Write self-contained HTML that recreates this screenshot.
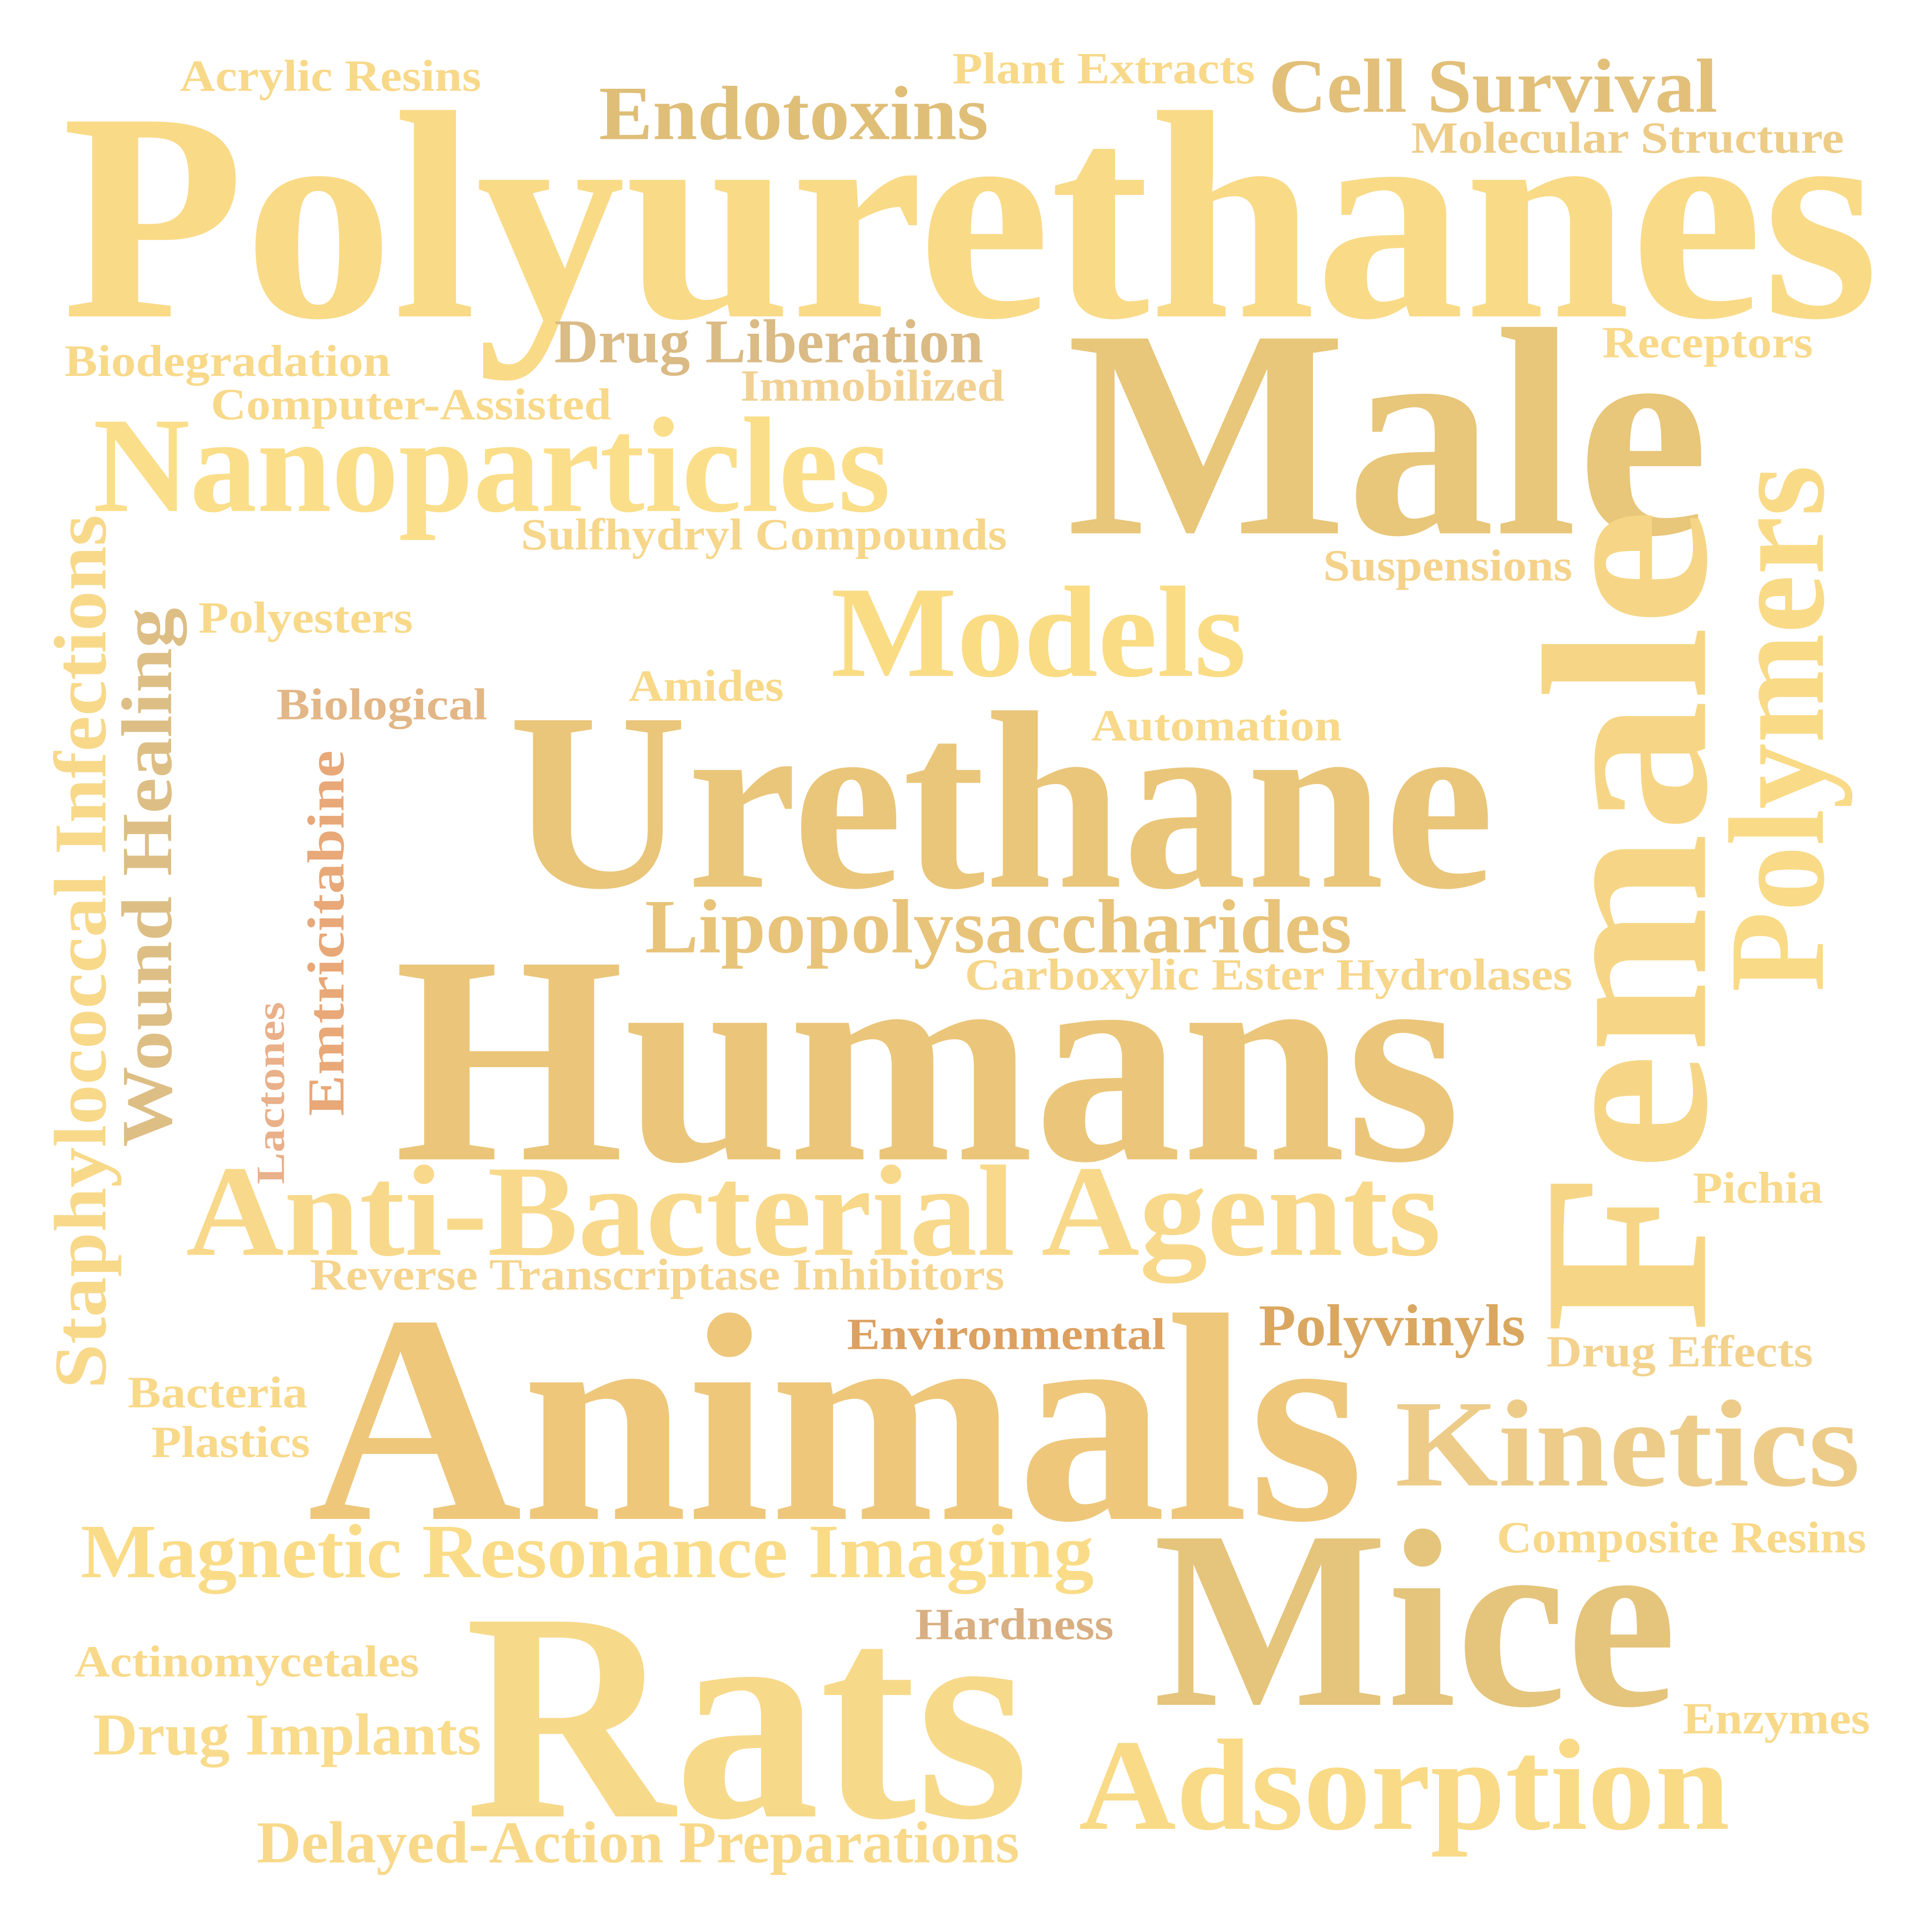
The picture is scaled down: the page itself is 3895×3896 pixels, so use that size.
<!DOCTYPE html>
<html><head><meta charset="utf-8"><style>
html,body{margin:0;padding:0;background:#fff;}
svg{display:block;}
text{font-family:"Liberation Serif",serif;font-weight:bold;}
</style></head><body>
<svg id="cloud" width="3895" height="3896" viewBox="0 0 1558 1558" xmlns="http://www.w3.org/2000/svg"></svg>
<script>
// words, font sizes, colours, and layout (x start, baseline, width, vertical flag)
const words = ["Polyurethanes","Male","Urethane","Humans","Animals","Rats","Mice","Female","Polymers",
"Staphylococcal Infections","Wound Healing","Emtricitabine","Lactones","Nanoparticles","Models",
"Anti-Bacterial Agents","Kinetics","Adsorption","Lipopolysaccharides","Magnetic Resonance Imaging",
"Endotoxins","Cell Survival","Drug Liberation","Delayed-Action Preparations","Drug Implants","Polyvinyls",
"Acrylic Resins","Plant Extracts","Molecular Structure","Biodegradation","Computer-Assisted","Immobilized",
"Receptors","Sulfhydryl Compounds","Suspensions","Polyesters","Biological","Amides","Automation",
"Carboxylic Ester Hydrolases","Reverse Transcriptase Inhibitors","Pichia","Environmental","Drug Effects",
"Bacteria","Plastics","Composite Resins","Hardness","Actinomycetales","Enzymes"];
const sizes = [240,240,205,240,240,240,205,190,110,60,58,42,32,110,105,105,100,105,62,62,62,62,50,48,48,48,
36,36,36,36,36,36,36,36,36,36,36,36,36,36,36,36,36,36,36,36,36,36,36,36];
const colors = ["#F9DA87","#E8C67A","#EAC67A","#EBC67A","#EEC77B","#F7D98A","#E5C47C","#F6D686","#F9DA87",
"#F8D98A","#DDBE85","#E8A878","#E9B08A","#FBDE8A","#FADC84","#F8D88A","#EDCC8A","#F9DA87","#E8C37A","#FADC88",
"#DFBE78","#E2C07A","#DABA85","#F8D98A","#F9DB8C","#DAA760","#F8D98A","#F8D98A","#EDCC88","#F8D98A","#F8D98A",
"#F1D193","#F8D98A","#F6D68A","#F5D28A","#F8D98A","#E2B686","#F8D98A","#F8D98A","#F6D68A","#F5D48E","#F8D98A",
"#DCA060","#F3D28E","#F8D98A","#F8D98A","#F8D98A","#D8AF82","#F8D98A","#F8D98A"];
const layout = [
[50,255,1465,0],[860,430,518,0],[410,715,795,0],[318,935,860,0],[248,1225,852,0],[375,1465,455,0],
[930,1375,422,0],[1375,1075,665,1],[1470,800,425,1],[85,1120,705,1],[138,925,435,1],[277,900,295,1],
[229,955,147,1],[75,412,643,0],[670,545,335,0],[150,1012,1012,0],[1125,1198,375,0],[870,1475,525,0],
[520,768,570,0],[65,1272,817,0],[483,112,314,0],[1023,90,362,0],[447,292,346,0],[207,1502,615,0],
[75,1415,313,0],[1015,1085,215,0],[145,73,243,0],[768,67,244,0],[1138,123,349,0],[52,303,263,0],
[170,338,323,0],[597,323,213,0],[1292,288,170,0],[420,443,392,0],[1067,468,201,0],[160,510,173,0],
[223,580,170,0],[507,565,125,0],[880,597,202,0],[778,798,490,0],[250,1040,560,0],[1365,970,105,0],
[683,1088,257,0],[1247,1102,215,0],[103,1135,145,0],[122,1175,128,0],[1207,1252,298,0],[738,1322,160,0],
[60,1352,278,0],[1357,1398,151,0]];
const svg = document.getElementById('cloud');
const NS = "http://www.w3.org/2000/svg";
for (let i = 0; i < words.length; i++) {
  const t = document.createElementNS(NS, 'text');
  const L = layout[i];
  t.textContent = words[i];
  t.setAttribute('font-size', sizes[i]);
  t.setAttribute('fill', colors[i]);
  t.setAttribute('textLength', L[2]);
  t.setAttribute('lengthAdjust', 'spacingAndGlyphs');
  if (L[3]) {
    t.setAttribute('transform', 'translate(' + L[0] + ',' + L[1] + ') rotate(-90)');
    t.setAttribute('x', 0); t.setAttribute('y', 0);
  } else {
    t.setAttribute('x', L[0]); t.setAttribute('y', L[1]);
  }
  
  
  svg.appendChild(t);
}
</script>
</body></html>
